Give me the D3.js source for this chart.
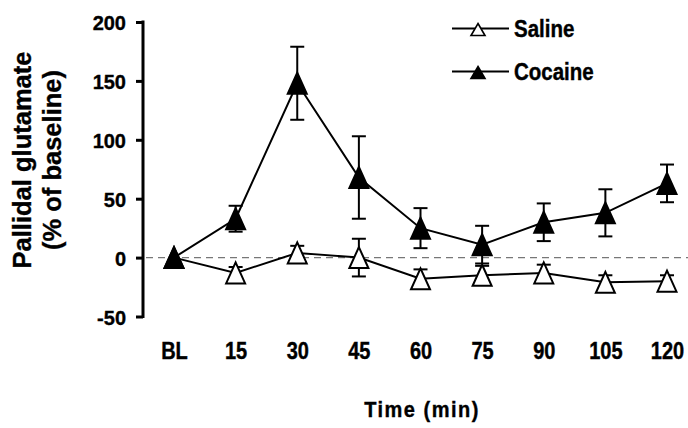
<!DOCTYPE html>
<html><head><meta charset="utf-8">
<script src="https://cdn.jsdelivr.net/npm/d3@7"></script>
<style>body{margin:0;background:#fff}svg{display:block}text{font-family:"Liberation Sans",Arial,sans-serif;font-weight:bold;fill:#000;stroke:#000;stroke-width:0.35px}</style>
</head><body><svg id="c" width="688" height="428"></svg>
<script>
const categories = ["BL","15","30","45","60","75","90","105","120"];
const salineMean = [0,-13,4,0,-18,-15,-13,-21,-20];
const salineErr  = [0,5,6,16,8,8,7,6,5];
const cocaineMean = [0,33,148,68,25,11,30,38,63];
const cocaineErr  = [0,11,31,35,17,16,16,20,16];
const yTicks = [-50,0,50,100,150,200];
const seriesNames = ["Saline","Cocaine"];

const FONT = '"Liberation Sans",Arial,sans-serif';
const svg = d3.select("#c");
const x = d3.scalePoint().domain(categories).range([174,667]);
const y = d3.scaleLinear().domain([-50,200]).range([316.5,22]);

// zero dashed line
svg.append("line").attr("x1",146).attr("x2",688).attr("y1",y(0)).attr("y2",y(0))
  .attr("stroke","#777").attr("stroke-width",1.3).attr("stroke-dasharray","7,5");

// y axis
const ax = svg.append("g").attr("transform","translate(143,0)")
  .call(d3.axisLeft(y).tickValues(yTicks).tickSize(7).tickPadding(10).tickFormat(d => String(d)));
ax.select(".domain").attr("stroke","#000").attr("stroke-width",3).attr("d",`M0,${y(-50)+1.5}V${y(200)-1.5}`);
ax.selectAll(".tick line").attr("stroke","#000").attr("stroke-width",3);
ax.selectAll(".tick text").style("font-size","20px").style("font-family",FONT).style("font-weight","bold")
  .attr("fill","#000").attr("transform","scale(1,1.05)").attr("dy","0.36em");

// x labels
const xa = svg.append("g").attr("transform","translate(0,343)")
  .call(d3.axisBottom(x).tickSize(0).tickPadding(0));
xa.select(".domain").remove();
xa.selectAll(".tick text").style("font-size","20px").style("font-family",FONT).style("font-weight","bold")
  .attr("fill","#000").attr("transform","scale(1,1.15)");

function triPath(w,h){
  return d3.line()([[0,-h/2],[w/2,h/2],[-w/2,h/2]]) + "Z";
}
const markerPath = triPath(19,21);

function series(mean, err, fill){
  const pts = categories.map((c,i)=>({c, m:mean[i], e:err[i]}));
  const g = svg.append("g");
  g.append("path").datum(pts).attr("fill","none").attr("stroke","#000").attr("stroke-width",2)
    .attr("d", d3.line().x(d=>x(d.c)).y(d=>y(d.m)));
  const eb = g.selectAll(".eb").data(pts.filter(d=>d.e>0)).join("g").attr("stroke","#000").attr("stroke-width",2);
  eb.append("line").attr("x1",d=>x(d.c)).attr("x2",d=>x(d.c)).attr("y1",d=>y(d.m+d.e)).attr("y2",d=>y(d.m-d.e));
  eb.append("line").attr("x1",d=>x(d.c)-7).attr("x2",d=>x(d.c)+7).attr("y1",d=>y(d.m+d.e)).attr("y2",d=>y(d.m+d.e));
  eb.append("line").attr("x1",d=>x(d.c)-7).attr("x2",d=>x(d.c)+7).attr("y1",d=>y(d.m-d.e)).attr("y2",d=>y(d.m-d.e));
  g.selectAll(".mk").data(pts).join("path").attr("d",markerPath)
    .attr("transform",d=>`translate(${x(d.c)},${y(d.m)})`)
    .attr("fill",fill).attr("stroke","#000").attr("stroke-width",2).attr("stroke-linejoin","miter");
}
series(salineMean, salineErr, "#fff");
series(cocaineMean, cocaineErr, "#000");

// legend
const legendFill = ["#fff","#000"];
const legendLineY = [28.5,71.5];
const lg = svg.append("g");
seriesNames.forEach((name,i)=>{
  const ly = legendLineY[i];
  lg.append("line").attr("x1",452).attr("x2",509).attr("y1",ly).attr("y2",ly).attr("stroke","#000").attr("stroke-width",2);
  lg.append("path").attr("d",triPath(14,12)).attr("transform",`translate(478,${ly+1})`)
    .attr("fill",legendFill[i]).attr("stroke","#000").attr("stroke-width",1.6);
  lg.append("text").attr("transform",`translate(514,${ly+8.3}) scale(1,1.14)`).style("font-size","20.5px").text(name);
});

// axis titles
svg.append("text").attr("transform","translate(422,417) scale(1,1.1)").attr("text-anchor","middle")
  .style("font-size","20px").style("letter-spacing","1.5px").text("Time (min)");
svg.append("text").attr("transform","translate(31,160) rotate(-90)").attr("text-anchor","middle")
  .style("font-size","25.5px").text("Pallidal glutamate");
svg.append("text").attr("transform","translate(61,160) rotate(-90)").attr("text-anchor","middle")
  .style("font-size","25.5px").text("(% of baseline)");
</script></body></html>
